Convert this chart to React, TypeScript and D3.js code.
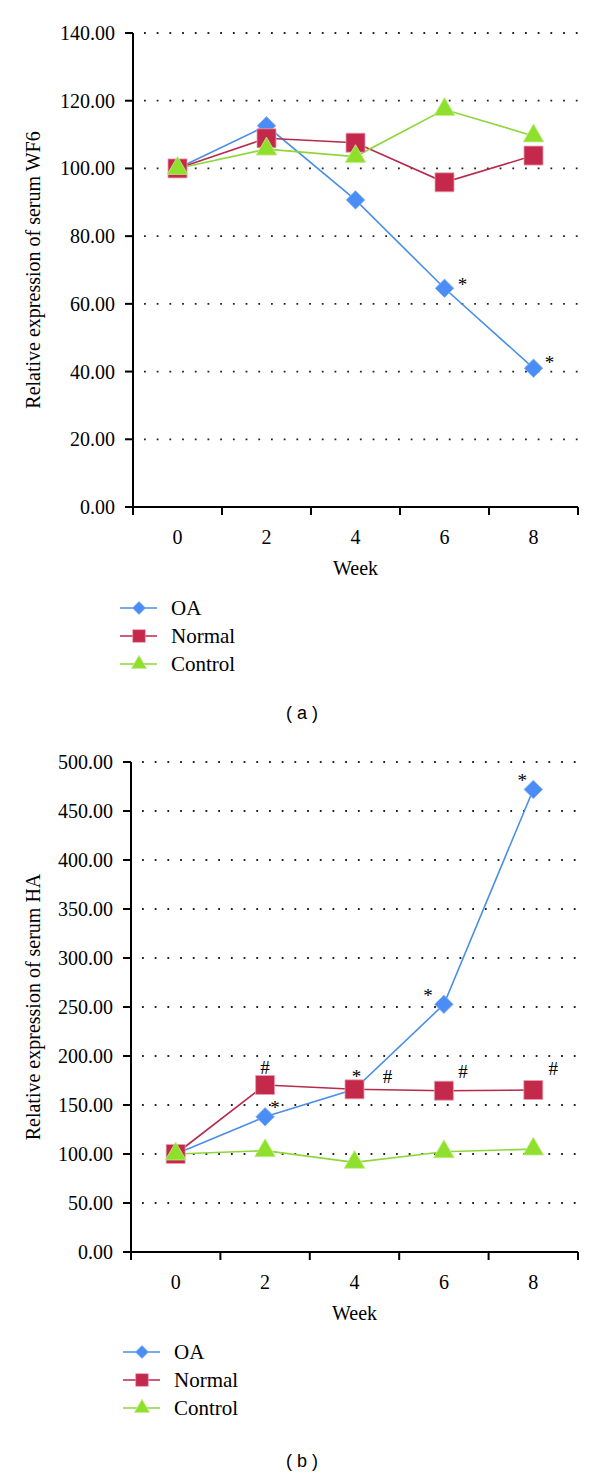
import React, { useEffect, useRef } from "react";
import * as d3 from "d3";

// ---------- data ----------
const weeks = ["0", "2", "4", "6", "8"];

const wf6OA = [100, 112.6, 90.7, 64.6, 41.0];
const wf6Normal = [100, 108.9, 107.6, 95.9, 103.8];
const wf6Control = [100, 105.7, 103.5, 117.4, 109.6];
const wf6Ticks = [0, 20, 40, 60, 80, 100, 120, 140];

const haOA = [100, 138, 166, 252.7, 472];
const haNormal = [100, 170.4, 166, 164.6, 165.3];
const haControl = [100, 103.4, 91.5, 102.3, 105];
const haTicks = [0, 50, 100, 150, 200, 250, 300, 350, 400, 450, 500];

const seriesNames = ["OA", "Normal", "Control"];

// significance marks: series, week, symbol
const wf6Marks = [
  { series: "OA", week: "6", symbol: "*" },
  { series: "OA", week: "8", symbol: "*" }
];
const haMarks = [
  { series: "OA", week: "2", symbol: "*" },
  { series: "OA", week: "4", symbol: "*" },
  { series: "OA", week: "6", symbol: "*" },
  { series: "OA", week: "8", symbol: "*" },
  { series: "Normal", week: "2", symbol: "#" },
  { series: "Normal", week: "4", symbol: "#" },
  { series: "Normal", week: "6", symbol: "#" },
  { series: "Normal", week: "8", symbol: "#" }
];

// ---------- layout / style ----------
const wf6MarkOffsets = [[18, -7], [16, -9]];
const haMarkOffsets = [
  [10, -13], [2, -16], [-16, -12], [-11, -12],
  [0, -17], [33, -12], [19, -19], [20, -21]
];

const styles = {
  OA: { line: "#4a8ee8", fill: "#4a8ef5", stroke: "#7fb0f7", shape: "diamond" },
  Normal: { line: "#b72a4b", fill: "#c4284a", stroke: "#eaa0ae", shape: "square" },
  Control: { line: "#8ed63a", fill: "#8fe02c", stroke: "#c2ee8a", shape: "triangle" }
};

const SERIF = "'Liberation Serif', 'Times New Roman', serif";
const SANS = "'Liberation Sans', Arial, sans-serif";

function markerPath(shape) {
  if (shape === "square") return d3.symbol(d3.symbolSquare, 361)();
  if (shape === "triangle") return d3.symbol(d3.symbolTriangle, 185)();
  return d3.symbol(d3.symbolSquare, 170)();
}

function drawPanel(svg, cfg) {
  const { xRange, yRange, ticks, series, marks, offsets, yTitle, legendY, legendX, tag, tagY } = cfg;

  const x = d3.scaleBand().domain(weeks).range(xRange);
  const y = d3.scaleLinear().domain([0, ticks[ticks.length - 1]]).range(yRange);

  const g = svg.append("g");

  // grid (dotted)
  g.selectAll(".grid")
    .data(ticks.filter(t => t > 0))
    .enter()
    .append("line")
    .attr("x1", xRange[0] + 11)
    .attr("x2", xRange[1])
    .attr("y1", d => y(d))
    .attr("y2", d => y(d))
    .attr("stroke", "#222")
    .attr("stroke-width", 1.8)
    .attr("stroke-dasharray", "1.8 10.9");

  // y axis
  g.append("line")
    .attr("x1", xRange[0]).attr("x2", xRange[0])
    .attr("y1", y(ticks[ticks.length - 1])).attr("y2", y(0))
    .attr("stroke", "#000").attr("stroke-width", 2);

  g.selectAll(".ytick")
    .data(ticks)
    .enter()
    .append("line")
    .attr("x1", xRange[0] - 8).attr("x2", xRange[0])
    .attr("y1", d => y(d)).attr("y2", d => y(d))
    .attr("stroke", "#000").attr("stroke-width", 2);

  g.selectAll(".ylabel")
    .data(ticks)
    .enter()
    .append("text")
    .attr("x", xRange[0] - 18)
    .attr("y", d => y(d))
    .attr("dy", "0.35em")
    .attr("text-anchor", "end")
    .attr("font-family", SERIF)
    .attr("font-size", 20)
    .text(d => d.toFixed(2));

  // x axis
  g.append("line")
    .attr("x1", xRange[0] - 8).attr("x2", xRange[1])
    .attr("y1", y(0)).attr("y2", y(0))
    .attr("stroke", "#000").attr("stroke-width", 2);

  const edges = weeks.map(w => x(w)).concat([xRange[1]]);
  g.selectAll(".xtick")
    .data(edges)
    .enter()
    .append("line")
    .attr("x1", d => d).attr("x2", d => d)
    .attr("y1", y(0)).attr("y2", y(0) + 8)
    .attr("stroke", "#000").attr("stroke-width", 2);

  g.selectAll(".xlabel")
    .data(weeks)
    .enter()
    .append("text")
    .attr("x", d => x(d) + x.bandwidth() / 2)
    .attr("y", y(0) + 37)
    .attr("text-anchor", "middle")
    .attr("font-family", SERIF)
    .attr("font-size", 20)
    .text(d => d);

  g.append("text")
    .attr("x", (xRange[0] + xRange[1]) / 2)
    .attr("y", y(0) + 68)
    .attr("text-anchor", "middle")
    .attr("font-family", SERIF)
    .attr("font-size", 20)
    .text("Week");

  const midY = (yRange[0] + yRange[1]) / 2;
  g.append("text")
    .attr("transform", `translate(40, ${midY}) rotate(-90)`)
    .attr("text-anchor", "middle")
    .attr("font-family", SERIF)
    .attr("font-size", 20)
    .text(yTitle);

  // lines + markers
  const cx = w => x(w) + x.bandwidth() / 2;
  const line = d3.line().x(d => cx(d.week)).y(d => y(d.value));

  seriesNames.forEach(name => {
    const pts = weeks.map((w, i) => ({ week: w, value: series[name][i] }));
    const st = styles[name];
    g.append("path")
      .attr("d", line(pts))
      .attr("fill", "none")
      .attr("stroke", st.line)
      .attr("stroke-width", 1.6);
  });

  // markers drawn after all the lines
  seriesNames.forEach(name => {
    const st = styles[name];
    g.selectAll(`.m-${name}`)
      .data(weeks.map((w, i) => ({ week: w, value: series[name][i] })))
      .enter()
      .append("path")
      .attr("d", markerPath(st.shape))
      .attr("transform", d =>
        `translate(${cx(d.week)}, ${y(d.value)})${st.shape === "diamond" ? " rotate(45)" : ""}`)
      .attr("fill", st.fill)
      .attr("stroke", st.stroke)
      .attr("stroke-width", 0.8);
  });

  // significance marks
  g.selectAll(".sig")
    .data(marks)
    .enter()
    .append("text")
    .attr("x", (d, i) => cx(d.week) + offsets[i][0])
    .attr("y", (d, i) => {
      const v = series[d.series][weeks.indexOf(d.week)];
      return y(v) + offsets[i][1] + (d.symbol === "*" ? 10 : 6);
    })
    .attr("text-anchor", "middle")
    .attr("font-family", SERIF)
    .attr("font-size", 19)
    .text(d => d.symbol);

  // legend
  seriesNames.forEach((name, i) => {
    const st = styles[name];
    const ly = legendY + i * 28;
    g.append("line")
      .attr("x1", legendX).attr("x2", legendX + 37)
      .attr("y1", ly).attr("y2", ly)
      .attr("stroke", st.line).attr("stroke-width", 1.6);
    const size = st.shape === "square" ? 160 : st.shape === "triangle" ? 100 : 85;
    const sym = st.shape === "triangle" ? d3.symbolTriangle : d3.symbolSquare;
    g.append("path")
      .attr("d", d3.symbol(sym, size)())
      .attr("transform", `translate(${legendX + 19}, ${ly})${st.shape === "diamond" ? " rotate(45)" : ""}`)
      .attr("fill", st.fill)
      .attr("stroke", st.stroke)
      .attr("stroke-width", 0.6);
    g.append("text")
      .attr("x", legendX + 51)
      .attr("y", ly + 7)
      .attr("font-family", SERIF)
      .attr("font-size", 21)
      .text(name);
  });

  g.append("text")
    .attr("x", 302)
    .attr("y", tagY)
    .attr("text-anchor", "middle")
    .attr("font-family", SANS)
    .attr("font-size", 18)
    .text(tag);
}

export default function App() {
  const ref = useRef(null);

  useEffect(() => {
    const svg = d3.select(ref.current);
    svg.selectAll("*").remove();

    drawPanel(svg, {
      xRange: [133, 578],
      yRange: [507, 33],
      ticks: wf6Ticks,
      series: { OA: wf6OA, Normal: wf6Normal, Control: wf6Control },
      marks: wf6Marks,
      offsets: wf6MarkOffsets,
      yTitle: "Relative expression of serum WF6",
      legendX: 120,
      legendY: 608,
      tag: "( a )",
      tagY: 719
    });

    drawPanel(svg, {
      xRange: [131, 578],
      yRange: [1252, 762],
      ticks: haTicks,
      series: { OA: haOA, Normal: haNormal, Control: haControl },
      marks: haMarks,
      offsets: haMarkOffsets,
      yTitle: "Relative expression of serum HA",
      legendX: 123,
      legendY: 1352,
      tag: "( b )",
      tagY: 1467
    });
  }, []);

  return (
    <svg
      ref={ref}
      width={600}
      height={1473}
      style={{ position: "absolute", left: 0, top: 0, background: "#fff" }}
    />
  );
}
